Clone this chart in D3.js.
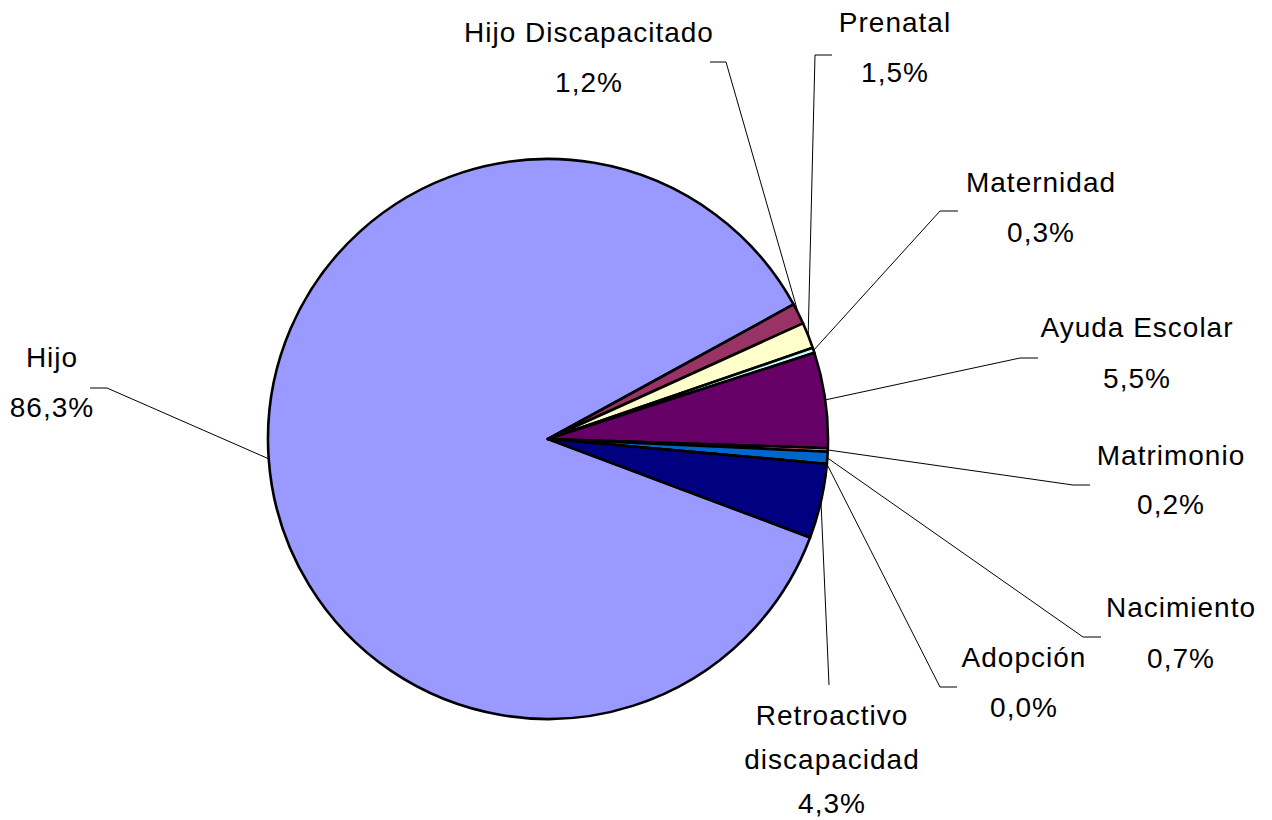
<!DOCTYPE html>
<html>
<head>
<meta charset="utf-8">
<script src="https://cdn.jsdelivr.net/npm/d3@7/dist/d3.min.js"></script>
<style>
  body { margin: 0; background: #fff; }
  text { font-family: "Liberation Sans", Arial, sans-serif; font-size: 28px; letter-spacing: 1px; fill: #000; }
</style>
</head>
<body>
<div id="pieChart"></div>
<script>
var categories = ["Hijo", "Hijo Discapacitado", "Prenatal", "Maternidad", "Ayuda Escolar",
                  "Matrimonio", "Nacimiento", "Adopción", "Retroactivo discapacidad"];
var values = [86.3, 1.2, 1.5, 0.3, 5.5, 0.2, 0.7, 0.0, 4.3];
var colors = ["#9999FF", "#993366", "#FFFFCC", "#CCFFFF", "#660066",
              "#FF8080", "#0066CC", "#CCCCFF", "#000080"];

// label layout: text centre x, first baseline y, line gap, stub end x, stub y, stub length (sign = side)
var labelLayout = [
    {lines: ["Hijo"], cx: 52, y: 367, gap: 50, sx: 107, sy: 388, len: -17},
    {lines: ["Hijo Discapacitado"], cx: 589, y: 42, gap: 50, sx: 726, sy: 62, len: -16},
    {lines: ["Prenatal"], cx: 895, y: 32, gap: 50, sx: 815, sy: 55, len: 17},
    {lines: ["Maternidad"], cx: 1041, y: 192, gap: 50, sx: 940, sy: 211, len: 18},
    {lines: ["Ayuda Escolar"], cx: 1137, y: 337, gap: 51, sx: 1020, sy: 358, len: 18},
    {lines: ["Matrimonio"], cx: 1171, y: 465, gap: 49, sx: 1073, sy: 485, len: 17},
    {lines: ["Nacimiento"], cx: 1181, y: 617, gap: 51, sx: 1083, sy: 637, len: 18},
    {lines: ["Adopción"], cx: 1024, y: 667, gap: 50, sx: 940, sy: 687, len: 17},
    {lines: ["Retroactivo", "discapacidad"], cx: 832, y: 725, gap: 44, sx: 829, sy: 685, len: 0}
];

var width = 1272, height = 820,
    cx = 548, cy = 439, radius = 280;

var svg = d3.select("#pieChart").append("svg")
    .attr("width", width)
    .attr("height", height);

var data = categories.map(function (c, i) {
    return {name: c, value: values[i], color: colors[i], layout: labelLayout[i]};
});

var startDeg = 110.6;
var pie = d3.pie()
    .sort(null)
    .value(function (d) { return d.value; })
    .startAngle(startDeg * Math.PI / 180)
    .endAngle((startDeg + 360) * Math.PI / 180);

var arc = d3.arc().innerRadius(0).outerRadius(radius);
var edge = d3.arc().innerRadius(radius).outerRadius(radius);

var arcs = pie(data);

var g = svg.append("g")
    .attr("transform", "translate(" + cx + "," + cy + ")");

g.selectAll("path.slice")
    .data(arcs)
    .enter().append("path")
    .attr("class", "slice")
    .attr("d", arc)
    .attr("fill", function (d) { return d.data.color; })
    .attr("stroke", "#000")
    .attr("stroke-width", 2.6)
    .attr("stroke-linejoin", "round");

var fmt = function (v) { return v.toFixed(1).replace(".", ",") + "%"; };

// leader lines
svg.selectAll("polyline.leader")
    .data(arcs)
    .enter().append("polyline")
    .attr("class", "leader")
    .attr("fill", "none")
    .attr("stroke", "#000")
    .attr("stroke-width", 1)
    .attr("points", function (d) {
        var p = edge.centroid(d), L = d.data.layout;
        return [[cx + p[0], cy + p[1]], [L.sx, L.sy], [L.sx + L.len, L.sy]].join(" ");
    });

// labels
var lab = svg.selectAll("g.label")
    .data(arcs)
    .enter().append("g")
    .attr("class", "label");

lab.each(function (d) {
    var L = d.data.layout, sel = d3.select(this);
    var lines = L.lines.concat([fmt(d.data.value)]);
    lines.forEach(function (t, i) {
        sel.append("text")
            .attr("x", L.cx)
            .attr("y", L.y + i * L.gap)
            .attr("text-anchor", "middle")
            .text(t);
    });
});
</script>
</body>
</html>
